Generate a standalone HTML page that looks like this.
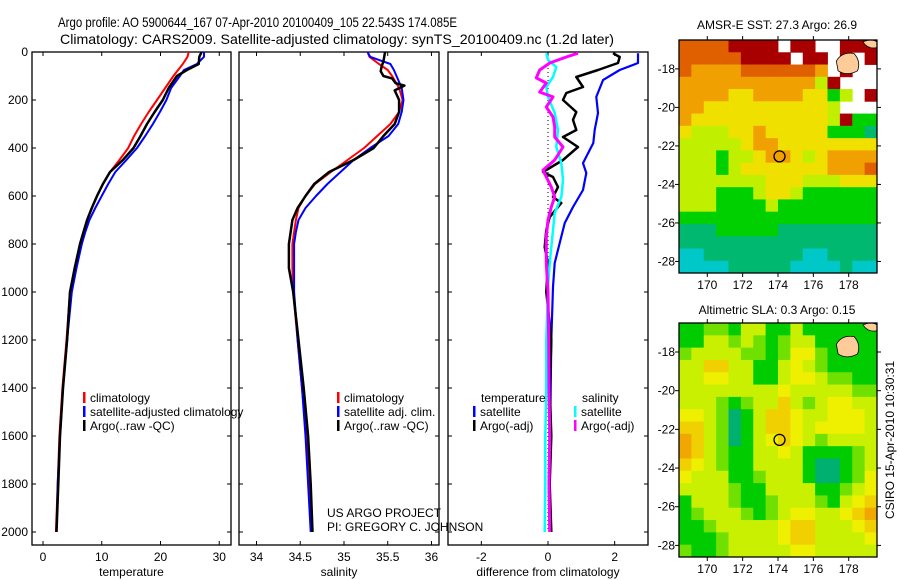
<!DOCTYPE html>
<html><head><meta charset="utf-8">
<style>
html,body{margin:0;padding:0;background:#fff;}
svg{display:block;font-family:"Liberation Sans",sans-serif;}
text{fill:#000;}
</style></head>
<body>
<svg id="chart" width="900" height="580" viewBox="0 0 900 580">
<text x="58" y="27" font-size="14" textLength="399" lengthAdjust="spacingAndGlyphs">Argo profile: AO 5900644_167 07-Apr-2010 20100409_105 22.543S 174.085E</text>
<text x="60" y="44" font-size="14" textLength="554" lengthAdjust="spacingAndGlyphs">Climatology: CARS2009. Satellite-adjusted climatology: synTS_20100409.nc (1.2d later)</text>
<text x="777" y="29" font-size="12" text-anchor="middle">AMSR-E SST: 27.3 Argo: 26.9</text>
<text x="777" y="314" font-size="12" text-anchor="middle">Altimetric SLA: 0.3 Argo: 0.15</text>
<text x="0" y="0" font-size="12" text-anchor="middle" transform="translate(894,440) rotate(-90)">CSIRO 15-Apr-2010 10:30:31</text>
<text x="327" y="517" font-size="12">US ARGO PROJECT</text>
<text x="327" y="531" font-size="12">PI: GREGORY C. JOHNSON</text>
</svg>
<script>
// ---------- profile data ----------
const depthStd = [0,20,50,75,100,150,200,250,300,350,400,450,500,550,600,650,700,750,800,900,1000,1200,1400,1600,1800,2000];
const tempClim = [24.8,24.6,23.8,23.0,22.2,20.8,19.4,18.0,16.7,15.5,14.5,13.0,11.4,10.2,9.2,8.3,7.5,7.0,6.6,5.5,4.6,4.0,3.3,2.8,2.5,2.2];
const tempSat  = [27.4,27.4,26.2,24.0,23.3,21.8,21.0,19.9,18.7,17.4,16.0,14.2,12.3,11.1,10.0,8.9,7.9,7.2,6.6,5.7,4.9,4.1,3.4,2.9,2.5,2.3];
const tempArgo = [27.0,26.6,26.5,24.5,22.8,21.4,20.4,19.0,17.7,16.6,15.4,13.6,11.4,10.2,9.2,8.3,7.5,6.9,6.3,5.4,4.6,4.1,3.4,2.9,2.6,2.3];
const salClim  = [35.27,35.29,35.40,35.50,35.55,35.63,35.67,35.63,35.53,35.38,35.23,35.04,34.85,34.67,34.56,34.48,34.45,34.43,34.41,34.41,34.42,34.47,34.52,34.57,34.60,34.63];
const salSat   = [35.27,35.30,35.53,35.57,35.60,35.66,35.68,35.66,35.62,35.51,35.30,35.11,34.96,34.81,34.68,34.56,34.48,34.45,34.43,34.43,34.43,34.47,34.52,34.56,34.59,34.62];
const depthArgoS = [0,20,40,60,80,100,110,130,140,160,200,250,300,350,400,450,500,550,600,650,700,800,900,1000,1200,1400,1600,1800,2000];
const salArgo    = [35.47,35.46,35.45,35.43,35.42,35.45,35.55,35.59,35.69,35.58,35.63,35.63,35.58,35.45,35.34,35.11,34.83,34.66,34.56,34.47,34.41,34.37,34.37,34.42,34.48,34.54,34.59,34.62,34.64];
const depthDT = [5,46,75,117,187,254,325,379,463,504,575,646,713,796,879,979,1200,1400,1600,1800,2000];
const diffTSat = [2.7,2.7,2.15,1.65,1.45,1.5,1.4,1.36,1.05,1.15,1.05,0.75,0.5,0.35,0.2,0.15,0.1,0.08,0.06,0.05,0.05];
const depthDA = [5,21,46,75,104,146,171,200,250,283,325,354,396,450,500,521,563,604,629,688,742,813,879,1000,1200,1400,1600,1800,2000];
const diffTArgo = [1.95,2.15,2.1,1.5,0.85,1.05,0.55,0.45,0.85,0.75,0.85,0.45,0.9,0.45,-0.15,0.15,0.3,0.15,0.4,0.05,-0.05,-0.1,0,-0.05,0.1,0.05,0.1,0.05,0.1];
const depthSS = [5,33,63,104,146,187,254,325,396,463,533,604,671,742,813,879,979,1200,1400,1600,1800,2000];
const diffSSat = [-0.05,0,0.25,0.15,-0.05,0,0.2,0.3,0.25,0.4,0.45,0.4,0.2,0.15,0.1,0.05,0.0,-0.05,-0.05,-0.08,-0.08,-0.1];
const depthSA = [5,21,46,75,108,129,167,187,229,271,313,354,396,450,492,521,563,604,646,700,771,879,1000,1200,1400,1600,1800,2000];
const diffSArgo = [0.9,0.55,0.05,-0.25,-0.35,-0.05,-0.25,0.15,-0.05,0.15,0.2,0.2,0.45,0.2,-0.15,-0.05,0.1,0.2,0.1,0,-0.05,-0.05,0,0.02,0.03,0.05,0.03,0.05];
const depthTicks = [0,200,400,600,800,1000,1200,1400,1600,1800,2000];
const tempTicks = [0,10,20,30];
const salTicks = [34,34.5,35,35.5,36];
const diffTicks = [-2,0,2];
// ---------- map data ----------
const sstGrid = [
[6,6,6,6,7,7,7,7,-1,7,7,-1,-1,7,7,7],
[6,6,6,6,6,7,7,7,7,-1,7,7,-1,7,-1,7],
[6,5,5,5,5,6,6,6,6,6,6,5,-1,7,-1,-1],
[5,5,5,5,5,5,5,5,5,5,5,3,7,-1,-1,-1],
[5,5,5,5,4,4,5,5,5,5,4,4,2,3,-1,7],
[5,5,4,4,4,4,4,4,4,4,4,4,3,-1,-1,-1],
[5,4,4,4,4,4,4,4,4,4,4,4,3,7,2,2],
[4,3,3,3,4,4,5,4,4,4,4,4,2,2,2,1],
[3,3,3,3,3,4,5,5,4,4,4,4,4,4,4,4],
[3,3,3,2,3,3,4,5,5,4,3,4,5,5,5,5],
[3,3,3,2,3,4,4,4,4,4,4,4,5,5,5,6],
[3,3,3,3,3,3,3,4,4,4,3,3,3,4,4,4],
[3,3,3,2,2,2,3,4,4,3,2,2,2,2,2,2],
[3,3,3,2,2,2,2,3,2,2,2,2,2,2,2,2],
[2,2,2,2,2,2,2,2,2,2,2,2,2,2,2,2],
[1,1,1,2,2,2,2,2,1,1,1,1,1,1,1,1],
[1,1,1,1,1,1,1,1,1,1,1,1,1,1,1,1],
[0,0,1,1,1,1,1,1,1,1,0,0,1,1,1,1],
[0,0,0,0,1,1,1,1,1,0,0,0,0,1,0,0]];
const slaGrid = [
[1,1,2,2,1,3,3,1,1,3,1,1,1,1,1,1],
[1,1,3,3,2,3,2,1,2,3,3,1,1,1,1,1],
[2,3,3,3,3,2,2,1,2,4,4,2,1,1,1,1],
[3,3,5,5,3,3,1,1,3,4,3,2,1,1,1,1],
[3,3,4,4,3,3,1,1,3,4,4,3,2,2,1,1],
[3,3,3,3,3,3,3,3,4,3,3,3,3,3,2,2],
[3,3,3,2,1,2,3,3,5,3,2,3,4,4,3,3],
[4,4,3,2,0,1,3,5,5,4,3,3,4,4,4,3],
[5,5,3,2,0,1,3,5,5,4,3,4,4,4,4,3],
[6,5,3,2,0,1,3,4,5,4,3,2,3,3,3,3],
[6,5,3,2,1,1,3,3,4,3,1,1,1,1,2,3],
[5,4,3,2,1,1,3,3,3,3,1,0,0,1,2,3],
[4,3,3,3,1,1,2,3,3,3,1,0,0,1,2,4],
[3,3,3,3,2,1,1,3,3,3,3,1,1,2,3,4],
[1,3,3,3,2,1,1,2,3,3,3,2,1,3,4,5],
[1,2,3,3,3,2,1,2,3,4,4,3,3,4,5,6],
[1,1,2,3,3,3,3,3,4,5,5,3,3,3,4,5],
[1,1,1,2,3,3,3,3,4,5,5,3,3,3,3,4],
[2,1,1,2,3,3,3,3,3,4,4,3,3,3,3,3]];
const lonTicks = [170,172,174,176,178];
const latTicks = [-18,-20,-22,-24,-26,-28];
const argoLon = [174.085];
const argoLat = [-22.543];

const NS = "http://www.w3.org/2000/svg";
const svg = document.getElementById('chart');
function mk(tag, attrs, parent){const e=document.createElementNS(NS,tag);for(const k in attrs)e.setAttribute(k,attrs[k]);(parent||svg).appendChild(e);return e;}

const yTop=52, yBot=532, boxBot=545;
function yD(d){return yTop+(yBot-yTop)*d/2000;}
const panels=[
 {name:'temperature',x0:32,x1:231,lo:-1.87,hi:32.0,ticks:tempTicks,label:'temperature',fmt:v=>String(v)},
 {name:'salinity',x0:239,x1:439,lo:33.8,hi:36.086,ticks:salTicks,label:'salinity',fmt:v=>String(v)},
 {name:'difference',x0:448,x1:648,lo:-3.0,hi:3.0,ticks:diffTicks,label:'difference from climatology',fmt:v=>String(v)}];
function xf(p){return v=>p.x0+(p.x1-p.x0)*(v-p.lo)/(p.hi-p.lo);}

panels.forEach((p,i)=>{
  const g=mk('g',{});
  
  
  const r=mk('rect',{x:p.x0,y:yTop,width:p.x1-p.x0,height:boxBot-yTop,fill:'none',stroke:'#000','stroke-width':1.3},g);
  
  
  const X=xf(p);
  p.ticks.forEach(t=>{
    const x=X(t);
    mk('line',{x1:x,y1:yTop,x2:x,y2:yTop+4,stroke:'#000'},g);
    mk('line',{x1:x,y1:boxBot,x2:x,y2:boxBot-4,stroke:'#000'},g);
    const tx=mk('text',{x:x,y:561,'font-size':12,'text-anchor':'middle'},g);
    tx.textContent=p.fmt(t);
    
    
  });
  depthTicks.forEach(d=>{
    const y=yD(d);
    mk('line',{x1:p.x0,y1:y,x2:p.x0+4,y2:y,stroke:'#000'},g);
    mk('line',{x1:p.x1,y1:y,x2:p.x1-4,y2:y,stroke:'#000'},g);
    if(i===0){
      const tx=mk('text',{x:28,y:y+4,'font-size':12,'text-anchor':'end'},g);
      tx.textContent=String(d);
      
      
    }
  });
  const lb=mk('text',{x:(p.x0+p.x1)/2,y:576,'font-size':12,'text-anchor':'middle'},g);
  lb.textContent=p.label;
  
  
  p.g=g;p.X=X;
});

function series(p,vals,deps,color,w,name){
  const pts=vals.map((v,k)=>p.X(v).toFixed(1)+','+yD(deps[k]).toFixed(1)).join(' ');
  const pl=mk('polyline',{points:pts,fill:'none',stroke:color,'stroke-width':w,'stroke-linejoin':'round'},p.g);
  
  
}
(function(){const p=panels[2];const x=p.X(0);
 const l=mk('line',{x1:x,y1:yD(0),x2:x,y2:yD(2000),stroke:'#000','stroke-width':1,'stroke-dasharray':'1,3'},p.g);
 
 })();

series(panels[0],tempClim,depthStd,'#ff0000',2,'temperature-climatology-line');
series(panels[0],tempSat,depthStd,'#0000ff',2,'temperature-satellite-line');
series(panels[0],tempArgo,depthStd,'#000000',2.5,'temperature-argo-line');
series(panels[1],salClim,depthStd,'#ff0000',2,'salinity-climatology-line');
series(panels[1],salSat,depthStd,'#0000ff',2,'salinity-satellite-line');
series(panels[1],salArgo,depthArgoS,'#000000',2.5,'salinity-argo-line');
series(panels[2],diffTSat,depthDT,'#0000ff',2.2,'diff-temperature-satellite-line');
series(panels[2],diffTArgo,depthDA,'#000000',2.5,'diff-temperature-argo-line');
series(panels[2],diffSSat,depthSS,'#00ffff',2.5,'diff-salinity-satellite-line');
series(panels[2],diffSArgo,depthSA,'#ff00ff',3,'diff-salinity-argo-line');

function legend(x,y,label,color,name){
  if(color){const m=mk('rect',{x:x,y:y-10,width:2.5,height:11,fill:color});
    
    }
  const t=mk('text',{x:x+7,y:y,'font-size':12});t.textContent=label;
  
  
}
legend(83,402,'climatology','#ff0000','legend-temp-climatology');
legend(83,416,'satellite-adjusted climatology','#0000ff','legend-temp-satellite');
legend(83,430,'Argo(..raw -QC)','#000000','legend-temp-argo');
legend(337,402,'climatology','#ff0000','legend-sal-climatology');
legend(337,416,'satellite adj. clim.','#0000ff','legend-sal-satellite');
legend(337,430,'Argo(..raw -QC)','#000000','legend-sal-argo');
legend(474,402,'temperature',null,'legend-diff-temperature-header');
legend(473,416,'satellite','#0000ff','legend-diff-temp-satellite');
legend(473,430,'Argo(-adj)','#000000','legend-diff-temp-argo');
legend(575,402,'salinity',null,'legend-diff-salinity-header');
legend(574,416,'satellite','#00ffff','legend-diff-sal-satellite');
legend(574,430,'Argo(-adj)','#ff00ff','legend-diff-sal-argo');

const sstColors=['#00c8c8','#00b870','#00d000','#c0f000','#f0e000','#f0a000','#e06000','#a80000'];
const slaColors=['#00b070','#00cc00','#70e000','#c8f000','#eef000','#f0d000','#f0a800'];
const lonLo=168.4,lonHi=179.6;
function drawMap(name,grid,colors,x0,x1,y0,y1,latTop,latBot){
  const g=mk('g',{});
  
  
  const rows=grid.length,cols=grid[0].length;
  const cw=(x1-x0)/cols,ch=(y1-y0)/rows;
  grid.forEach((row,r)=>row.forEach((v,c)=>{
    if(v<0)return;
    const cell=mk('rect',{x:(x0+c*cw).toFixed(2),y:(y0+r*ch).toFixed(2),width:(cw+0.4).toFixed(2),height:(ch+0.4).toFixed(2),fill:colors[v]},g);
    
    
  }));
  const LX=lon=>x0+(x1-x0)*(lon-lonLo)/(lonHi-lonLo);
  const LY=lat=>y0+(y1-y0)*(latTop-lat)/(latTop-latBot);
  const land=mk('path',{d:`M${LX(177.3)},${LY(-17.6)} Q${LX(177.6)},${LY(-17.1)} ${LX(178.3)},${LY(-17.2)} Q${LX(178.7)},${LY(-17.6)} ${LX(178.5)},${LY(-18.1)} Q${LX(177.9)},${LY(-18.4)} ${LX(177.4)},${LY(-18.1)} Z`,fill:'#ffcc99',stroke:'#000','stroke-width':0.8},g);
  
  
  const land2=mk('path',{d:`M${LX(178.8)},${LY(-16.6)} Q${LX(179.3)},${LY(-16.4)} ${LX(179.6)},${LY(-16.6)} L${LX(179.6)},${LY(-16.9)} Q${LX(179.1)},${LY(-17.0)} ${LX(178.8)},${LY(-16.6)} Z`,fill:'#ffcc99',stroke:'#000','stroke-width':0.8},g);
  
  
  const box=mk('rect',{x:x0,y:y0,width:x1-x0,height:y1-y0,fill:'none',stroke:'#000','stroke-width':1.3},g);
  
  
  lonTicks.forEach(l=>{const x=LX(l);
    mk('line',{x1:x,y1:y0,x2:x,y2:y0-4,stroke:'#000'},g);
    mk('line',{x1:x,y1:y1,x2:x,y2:y1+4,stroke:'#000'},g);
    const t=mk('text',{x:x,y:y1+16,'font-size':12,'text-anchor':'middle'},g);t.textContent=String(l);
    
    });
  latTicks.forEach(l=>{const y=LY(l);
    mk('line',{x1:x0,y1:y,x2:x0-4,y2:y,stroke:'#000'},g);
    mk('line',{x1:x1,y1:y,x2:x1+4,y2:y,stroke:'#000'},g);
    const t=mk('text',{x:x0-4,y:y+4,'font-size':12,'text-anchor':'end'},g);t.textContent=String(l);
    
    });
  const c=mk('circle',{cx:LX(argoLon[0]),cy:LY(argoLat[0]),r:5.5,fill:'none',stroke:'#000','stroke-width':1.3},g);
  
  
}
drawMap('sst-map',sstGrid,sstColors,679,877,40,273,-16.5,-28.6);
drawMap('sla-map',slaGrid,slaColors,679,877,323,557,-16.5,-28.6);
// cover left-side lat labels where the axes boxes overlap them (labels sit between panel 3 and maps)
</script>
</body></html>
